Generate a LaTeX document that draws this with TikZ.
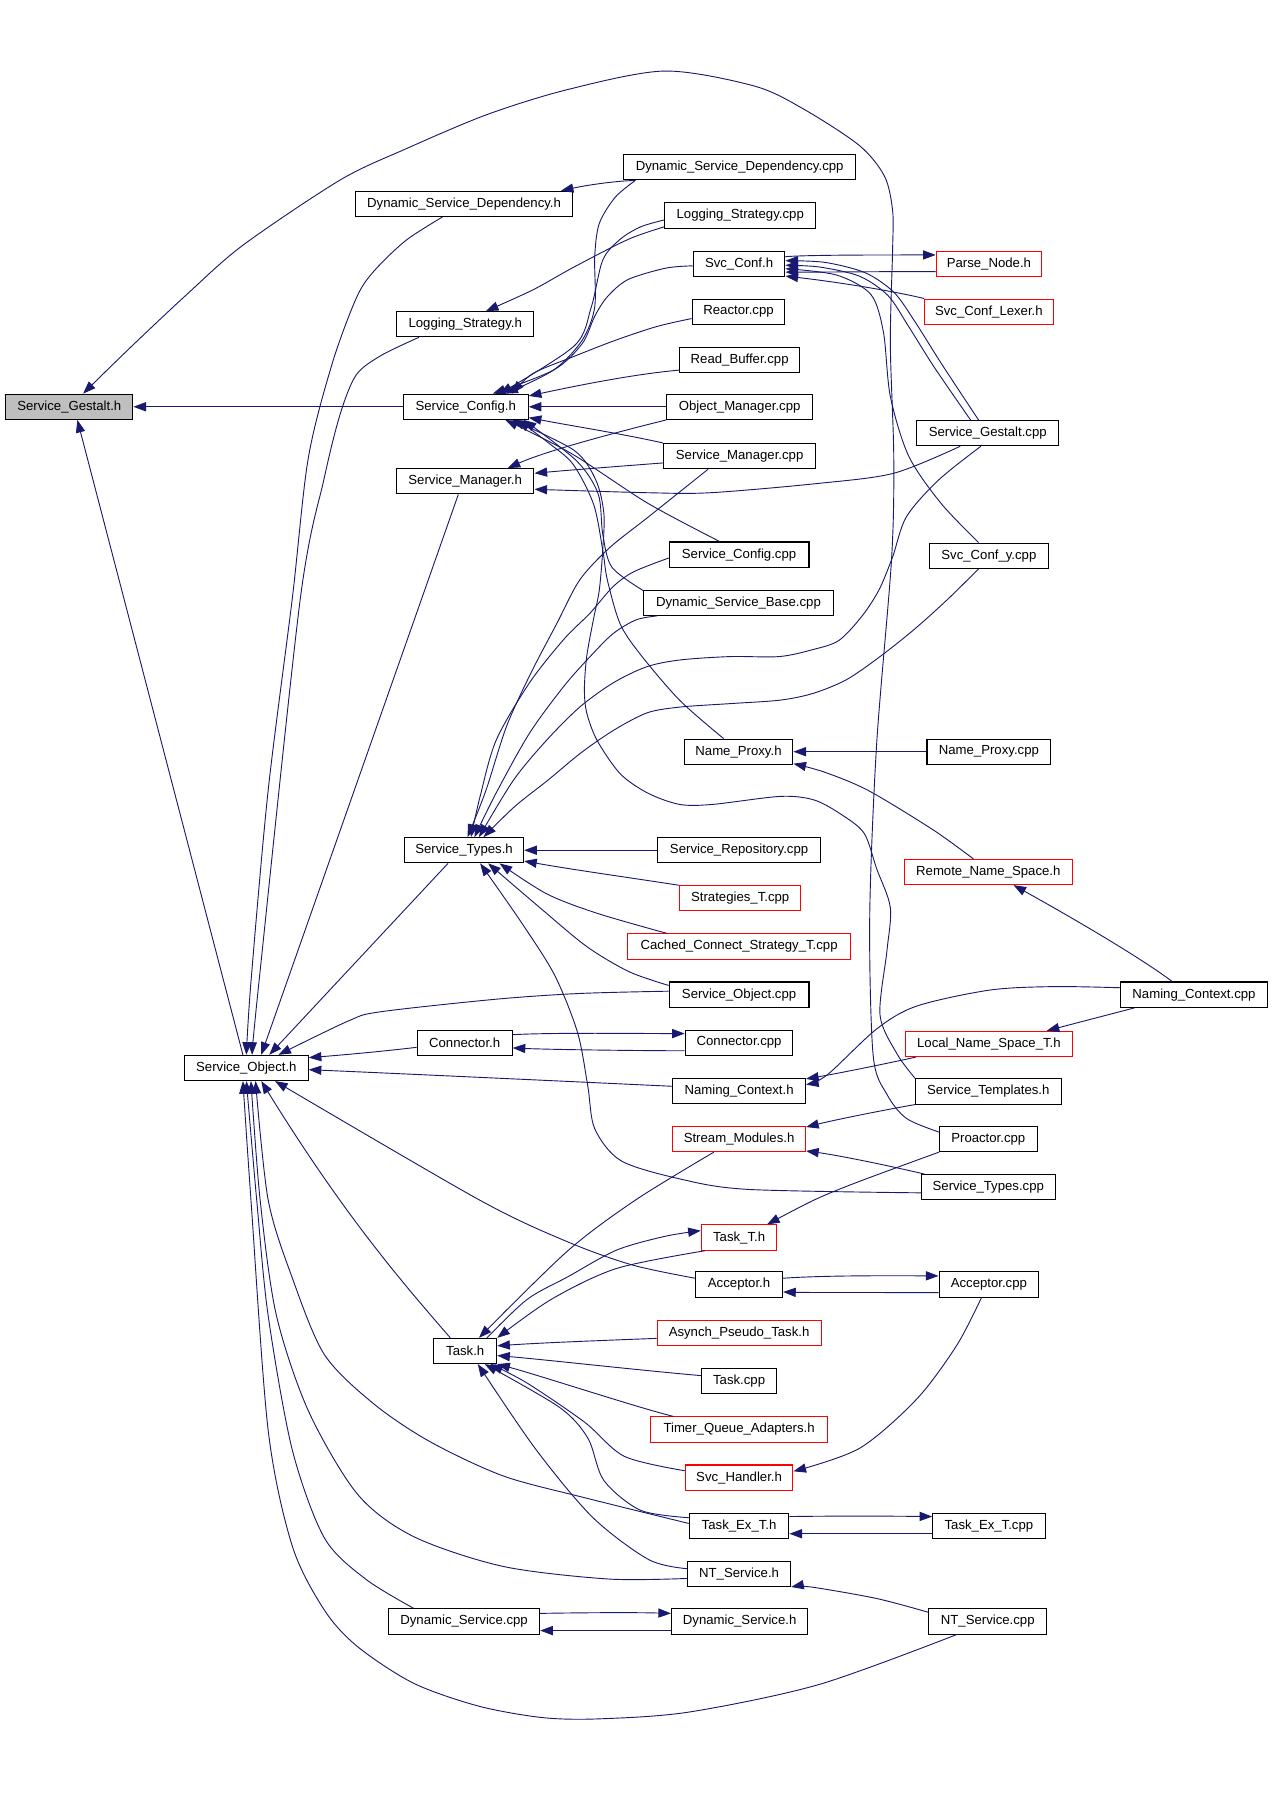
\documentclass[tikz,border=0pt]{standalone}
\usepackage{fontspec}
\setmainfont{Liberation Sans}
\usetikzlibrary{arrows.meta}
\definecolor{edgeblue}{HTML}{191970}
\definecolor{rootgray}{HTML}{BFBFBF}
\begin{document}
\begin{tikzpicture}[x=1pt,y=-1pt,
  filenode/.style={draw=black, line width=0.9pt, minimum height=22pt, inner sep=0pt, font=\fontsize{11.5}{13}\selectfont, text=black},
  rednode/.style={filenode, draw=red},
  rootnode/.style={filenode, fill=rootgray},
  dep/.style={draw=edgeblue, line width=0.8pt, -{Triangle[length=11pt,width=8pt]}}]
\fill[white] (0,0) rectangle (1110,1570);
\useasboundingbox (0,0) rectangle (1110,1570);

% nodes
\node[rootnode, minimum width=111pt] (GSh) at (60.5,355) {Service\_Gestalt.h};
\node[filenode, minimum width=190pt] (DSDh) at (405,178) {Dynamic\_Service\_Dependency.h};
\node[filenode, minimum width=203pt] (DSDc) at (645.5,146) {Dynamic\_Service\_Dependency.cpp};
\node[filenode, minimum width=132pt] (LSc) at (646,188) {Logging\_Strategy.cpp};
\node[filenode, minimum width=80pt] (SCfh) at (645,230.5) {Svc\_Conf.h};
\node[rednode, minimum width=92pt] (PN) at (863,230.5) {Parse\_Node.h};
\node[rednode, minimum width=112pt] (SCL) at (863,272) {Svc\_Conf\_Lexer.h};
\node[filenode, minimum width=81pt] (RC) at (644.5,272) {Reactor.cpp};
\node[filenode, minimum width=120pt] (LSh) at (406,283) {Logging\_Strategy.h};
\node[filenode, minimum width=105pt] (RB) at (645.5,314) {Read\_Buffer.cpp};
\node[filenode, minimum width=109pt] (SCh) at (406.5,355) {Service\_Config.h};
\node[filenode, minimum width=127pt] (OM) at (645.5,355) {Object\_Manager.cpp};
\node[filenode, minimum width=124pt] (GSc) at (862,378) {Service\_Gestalt.cpp};
\node[filenode, minimum width=133pt] (SMc) at (645.5,398) {Service\_Manager.cpp};
\node[filenode, minimum width=120pt] (SMh) at (406,420) {Service\_Manager.h};
\node[filenode, minimum width=122pt] (SCc) at (645,484) {Service\_Config.cpp};
\node[filenode, minimum width=104pt] (SCy) at (863,485) {Svc\_Conf\_y.cpp};
\node[filenode, minimum width=165pt] (DSB) at (644.5,526) {Dynamic\_Service\_Base.cpp};
\node[filenode, minimum width=95pt] (NPh) at (644.5,656) {Name\_Proxy.h};
\node[filenode, minimum width=108pt] (NPc) at (863,656) {Name\_Proxy.cpp};
\node[filenode, minimum width=104pt] (STh) at (405,742) {Service\_Types.h};
\node[filenode, minimum width=142pt] (SR) at (645,742) {Service\_Repository.cpp};
\node[rednode, minimum width=147pt] (RNS) at (862.5,761) {Remote\_Name\_Space.h};
\node[rednode, minimum width=106pt] (ST) at (646,784) {Strategies\_T.cpp};
\node[rednode, minimum width=194pt] (CCS) at (645,826) {Cached\_Connect\_Strategy\_T.cpp};
\node[filenode, minimum width=122pt] (SOc) at (645,868) {Service\_Object.cpp};
\node[filenode, minimum width=128pt] (NCc) at (1042,868) {Naming\_Context.cpp};
\node[filenode, minimum width=83pt] (Ch) at (405.5,910) {Connector.h};
\node[filenode, minimum width=94pt] (Cc) at (645,910) {Connector.cpp};
\node[rednode, minimum width=146pt] (LNS) at (863,911) {Local\_Name\_Space\_T.h};
\node[filenode, minimum width=108pt] (SOh) at (215,932) {Service\_Object.h};
\node[filenode, minimum width=116pt] (NCh) at (645,952) {Naming\_Context.h};
\node[filenode, minimum width=127pt] (STmp) at (862.5,952.5) {Service\_Templates.h};
\node[rednode, minimum width=116pt] (SMod) at (645,994) {Stream\_Modules.h};
\node[filenode, minimum width=85pt] (PR) at (862.5,994) {Proactor.cpp};
\node[filenode, minimum width=117pt] (STc) at (862.5,1036) {Service\_Types.cpp};
\node[rednode, minimum width=66pt] (TT) at (645,1080) {Task\_T.h};
\node[filenode, minimum width=76pt] (Ah) at (645,1121) {Acceptor.h};
\node[filenode, minimum width=87pt] (Ac) at (863,1121) {Acceptor.cpp};
\node[rednode, minimum width=143pt] (APT) at (645,1163.5) {Asynch\_Pseudo\_Task.h};
\node[filenode, minimum width=55pt] (Th) at (406,1179) {Task.h};
\node[filenode, minimum width=66pt] (Tc) at (645,1205.5) {Task.cpp};
\node[rednode, minimum width=154pt] (TQA) at (645,1247.5) {Timer\_Queue\_Adapters.h};
\node[rednode, minimum width=94pt] (SH) at (645,1289.5) {Svc\_Handler.h};
\node[filenode, minimum width=87pt] (TEh) at (645,1331.5) {Task\_Ex\_T.h};
\node[filenode, minimum width=98pt] (TEc) at (863,1331.5) {Task\_Ex\_T.cpp};
\node[filenode, minimum width=90pt] (NTh) at (645,1373.5) {NT\_Service.h};
\node[filenode, minimum width=132pt] (DSc) at (405,1415) {Dynamic\_Service.cpp};
\node[filenode, minimum width=119pt] (DSh) at (645.5,1415) {Dynamic\_Service.h};
\node[filenode, minimum width=103pt] (NTc) at (862,1415) {NT\_Service.cpp};

% edges into Service_Gestalt.h
\draw[dep] (SCh.west) -- (GSh.east);
\draw[dep] ([xshift=-3pt]SOh.north) -- ([xshift=7pt]GSh.south);
\draw[dep] plot[smooth] coordinates {([yshift=6pt]PR.west) (791,976) (774,955) (762,921) (759,800) (765,650) (778,489) (780,400) (777,300) (779,217) (779,184) (772,154) (750,127) (701,95) (658,75) (580,62) (496,78) (425,100) (354,130) (297,157) (212,214) (163,257) (113,304) ([xshift=12pt]GSh.north)};

% top area
\draw[dep] ([xshift=11pt]DSDc.south west) .. controls (535,158) and (510,162) .. ([xshift=-11pt]DSDh.north east);
\draw[dep] plot[smooth] coordinates {([xshift=-19pt]DSDh.south) (354,210) (326,237) (311,260) (290,317) (269,400) (255,523) (234,690) (219,857) (SOh.north)};
\draw[dep] plot[smooth] coordinates {([xshift=11pt]DSDc.south west) (537,172) (523,195) (519,224) (519,268) (508,297) (483,323) ([xshift=34.5pt]SCh.north)};
\draw[dep] plot[smooth] coordinates {([yshift=-10pt]LSc.west) (548,209) (501,233) (465,253) ([xshift=18pt]LSh.north)};
\draw[dep] plot[smooth] coordinates {([yshift=-4pt]LSc.west) (559,198) (541,209) (526,227) (516,268) (501,302) ([xshift=29.5pt]SCh.north)};
\draw[dep] plot[smooth] coordinates {([yshift=-1.5pt]SCfh.west) (581,234) (548,244) (530,259) (519,276) (508,300) (483,323) ([xshift=23.5pt]SCh.north)};
\draw[dep] plot[smooth] coordinates {([yshift=-6pt]RC.west) (573,285) (537,297) (501,311) (465,326) ([xshift=40.5pt]SCh.north)};
\draw[dep] ([yshift=-9pt]RB.west) .. controls (560,326) and (520,333) .. ([yshift=-2pt]SCh.north east);
\draw[dep] (OM.west) -- (SCh.east);
\draw[dep] (OM.south west) .. controls (555,373) and (480,392) .. ([xshift=37pt]SMh.north);
\draw[dep] (SMc.north west) .. controls (540,378) and (495,371) .. ([yshift=2pt]SCh.south east);
\draw[dep] ([yshift=-6pt]SMc.west) .. controls (540,407) and (500,410) .. ([yshift=7pt]SMh.east);
\draw[dep] plot[smooth] coordinates {([xshift=-24pt]GSc.south) (780,413) (713,422) (620,430) (565,430) ([yshift=-7pt]SMh.east)};

% Svc_Conf.h cluster
\draw[dep] ([yshift=6.5pt]SCfh.east) .. controls (705,222.5) and (760,222.5) .. ([yshift=8pt]PN.west);
\draw[dep] ([yshift=-6.5pt]PN.west) .. controls (760,237) and (720,237.5) .. ([yshift=-7pt]SCfh.east);
\draw[dep] (SCL.north west) .. controls (780,254) and (730,246) .. ([yshift=1pt]SCfh.south east);
\draw[dep] plot[smooth] coordinates {([xshift=-15pt]GSc.north) (815,320) (793,285) (775,258) (750,241) (715,233) ([yshift=-1pt]SCfh.east)};
\draw[dep] plot[smooth] coordinates {([xshift=-8pt]GSc.north) (822,318) (798,280) (780,255) (755,238) (720,229) ([yshift=3pt]SCfh.east)};
\draw[dep] plot[smooth] coordinates {([xshift=-9pt]SCy.north) (821,439) (793,398) (777,346) (771,290) (760,257) (730,240) ([yshift=-4pt]SCfh.east)};

% into Service_Config.h from below
\draw[dep] plot[smooth] coordinates {([xshift=-17pt]SCc.north) (565,439) (499,396) ([xshift=34.5pt]SCh.south)};
\draw[dep] plot[smooth] coordinates {([yshift=-1pt]DSB.north west) (534,495) (526,466) (522,431) (503,402) ([xshift=50.5pt]SCh.south)};
\draw[dep] plot[smooth] coordinates {([xshift=-13pt]NPh.north) (593,611) (558,570) (541,544) (530,506) (526,480) (518,440) (500,405) (478,386) ([xshift=45.5pt]SCh.south)};
\draw[dep] plot[smooth] coordinates {(STmp.north west) (783,920) (768,886) (774,830) (777,792) (765,758) (754,727) (733,710) (710,698) (681,695) (622,702) (593,702) (565,692) (541,675) (521,646) (512,622) (510,602) (512,573) (518,540) (523,515) (526,480) (527,448) (520,419) (501,393) ([xshift=40.5pt]SCh.south)};

% into Service_Types.h
\draw[dep] plot[smooth] coordinates {([xshift=-27.5pt]SMc.south) (566,451) (532,478) (506,506) (486,544) (463,588) (442,634) (424,690) ([xshift=3pt]STh.north)};
\draw[dep] plot[smooth] coordinates {([yshift=-3pt]SCc.west) (553,499) (535,512) (515,535) (492,558) (462,596) (433,646) (419,695) ([xshift=6pt]STh.north)};
\draw[dep] plot[smooth] coordinates {([xshift=12pt]DSB.south west) (555,541) (535,553) (515,573) (492,599) (462,640) (433,692) ([xshift=9pt]STh.north)};
\draw[dep] plot[smooth] coordinates {([xshift=-6pt]GSc.south) (819,419) (791,451) (779,486) (767,515) (752,538) (732,559) (709,567) (680,573) (637,573) (593,576) (564,582) (535,596) (506,617) (477,646) (448,681) ([xshift=13pt]STh.north)};
\draw[dep] plot[smooth] coordinates {([xshift=-9pt]SCy.south) (826,524) (797,550) (768,573) (739,593) (710,605) (681,611) (638,614) (594,617) (565,622) (536,637) (507,657) (478,681) (449,704) ([xshift=17pt]STh.north)};
\draw[dep] (SR.west) -- (STh.east);
\draw[dep] (ST.north west) .. controls (550,766) and (500,759) .. ([yshift=2pt]STh.south east);
\draw[dep] plot[smooth] coordinates {([xshift=-63pt]CCS.north) (521,797) (477,780) ([xshift=31pt]STh.south)};
\draw[dep] plot[smooth] coordinates {([yshift=8pt]SOc.west) (549,848) (512,826) (471,792) ([xshift=21pt]STh.south)};
\draw[dep] plot[smooth] coordinates {([yshift=-5pt]STc.west) (653,1038) (594,1029) (542,1013) (519,985) (513,948) (504,901) (484,851) (455,805) ([xshift=14pt]STh.south)};

% Name proxy / naming
\draw[dep] (NPc.west) -- (NPh.east);
\draw[dep] plot[smooth] coordinates {([xshift=-13pt]RNS.north) (814,724) (758,690) (720,674) ([yshift=1pt]NPh.south east)};
\draw[dep] ([xshift=-19pt]NCc.north) .. controls (990,832) and (925,795) .. ([xshift=22pt]RNS.south);
\draw[dep] ([xshift=13pt]NCc.south west) -- ([xshift=-23pt]LNS.north east);
\draw[dep] plot[smooth] coordinates {([yshift=6pt]NCc.west) (920,861) (864,864) (800,878) (765,898) (722,938) ([yshift=-6pt]NCh.north east)};
\draw[dep] ([xshift=10pt]LNS.south west) .. controls (770,929) and (730,937) .. ([yshift=-1pt]NCh.north east);

% into Service_Object.h from above/right
\draw[dep] plot[smooth] coordinates {([xshift=-40.5pt]LSh.south) (333,310) (311,327) (297,361) (283,417) (262,523) (226,857) ([xshift=5pt]SOh.north)};
\draw[dep] ([xshift=-6pt]SMh.south) -- ([xshift=13pt]SOh.north);
\draw[dep] ([xshift=-14pt]STh.south) -- ([xshift=20pt]SOh.north);
\draw[dep] plot[smooth] coordinates {([yshift=3pt]SOc.west) (506,867) (433,872) (332,883) (304,891) ([xshift=28pt]SOh.north)};
\draw[dep] ([yshift=-4pt]Ch.west) .. controls (330,918) and (295,921) .. ([yshift=9pt]SOh.east);
\draw[dep] ([yshift=4pt]NCh.west) .. controls (480,943) and (350,937) .. ([yshift=-1.5pt]SOh.east);

% connector pair
\draw[dep] ([yshift=7pt]Ch.east) .. controls (480,901) and (560,902) .. ([yshift=8pt]Cc.west);
\draw[dep] ([yshift=-7pt]Cc.west) .. controls (560,917) and (480,916) .. ([yshift=-4.5pt]Ch.east);

% stream modules
\draw[dep] ([xshift=3pt]STc.north west) .. controls (770,1016) and (730,1008) .. ([yshift=1pt]SMod.south east);
\draw[dep] (STmp.south west) .. controls (770,969) and (730,977) .. ([yshift=-1pt]SMod.north east);
\draw[dep] plot[smooth] coordinates {([xshift=-22pt]SMod.south) (555,1047) (495,1092) ([xshift=12pt]Th.north)};

% Task area
\draw[dep] plot[smooth] coordinates {(PR.south west) (750,1031) (711,1047) ([xshift=-9pt]TT.north east)};
\draw[dep] plot[smooth] coordinates {([xshift=4pt]TT.south west) (538,1107) (481,1134) (Th.north east)};
\draw[dep] plot[smooth] coordinates {([xshift=19pt]Th.north) (460,1134) (496,1114) (538,1091) (580,1079) ([yshift=6pt]TT.west)};
\draw[dep] plot[smooth] coordinates {([yshift=5.5pt]Ah.west) (552,1104) (496,1084) (418,1047) ([xshift=25pt]SOh.south)};
\draw[dep] ([yshift=5.5pt]Ah.east) .. controls (705,1114) and (740,1113) .. ([yshift=7.5pt]Ac.west);
\draw[dep] ([yshift=-7pt]Ac.west) .. controls (760,1128) and (700,1128) .. ([yshift=-6.5pt]Ah.east);
\draw[dep] plot[smooth] coordinates {([xshift=-6.5pt]Ac.south) (835,1174) (800,1221) (750,1264) ([yshift=5.5pt]SH.east)};
\draw[dep] ([yshift=-4.5pt]APT.west) .. controls (520,1170) and (470,1172) .. ([yshift=4.5pt]Th.east);
\draw[dep] ([yshift=5pt]Tc.west) .. controls (550,1195) and (480,1187) .. ([yshift=-4pt]Th.east);
\draw[dep] ([xshift=-57.5pt]TQA.north) .. controls (555,1228) and (470,1200) .. (Th.south east);
\draw[dep] plot[smooth] coordinates {([yshift=6pt]SH.west) (545,1271) (510,1241) (460,1207) ([xshift=22pt]Th.south)};
\draw[dep] plot[smooth] coordinates {([yshift=7pt]TEh.west) (559,1318) (527,1292) (513,1255) (488,1228) ([xshift=17pt]Th.south)};
\draw[dep] ([xshift=-13pt]Th.north) .. controls (350,1118) and (300,1060) .. ([xshift=13pt]SOh.south);
\draw[dep] plot[smooth] coordinates {([yshift=2pt]TEh.west) (510,1307) (439,1288) (375,1258) (326,1225) (283,1182) (255,1115) (234,1047) ([xshift=8pt]SOh.south)};
\draw[dep] ([yshift=8pt]TEh.east) .. controls (720,1323) and (770,1323) .. ([yshift=8pt]TEc.west);
\draw[dep] ([yshift=-7pt]TEc.west) .. controls (770,1338.5) and (720,1338.5) .. ([yshift=-7pt]TEh.east);
\draw[dep] plot[smooth] coordinates {([yshift=4.5pt]NTh.west) (566,1361) (517,1324) (467,1264) ([xshift=11pt]Th.south)};
\draw[dep] plot[smooth] coordinates {([yshift=-4pt]NTh.west) (531,1378) (439,1367) (361,1341) (312,1304) (269,1231) (241,1147) (227,1047) ([xshift=4pt]SOh.south)};
\draw[dep] plot[smooth] coordinates {([yshift=8pt]NTc.west) (765,1395) (708,1385) (NTh.south east)};
\draw[dep] plot[smooth] coordinates {([xshift=-27pt]NTc.south) (715,1470) (602,1494) (524,1500) (474,1499) (418,1489) (361,1469) (312,1437) (283,1405) (255,1349) (234,1248) (219,1047) ([xshift=-3pt]SOh.south)};
\draw[dep] plot[smooth] coordinates {([xshift=-44pt]DSc.north) (319,1378) (283,1342) (255,1265) (234,1148) (224,1047) (SOh.south)};
\draw[dep] ([yshift=7pt]DSc.east) .. controls (500,1407.5) and (550,1407) .. ([yshift=7pt]DSh.west);
\draw[dep] ([yshift=-8pt]DSh.west) .. controls (550,1423) and (500,1423) .. ([yshift=-8pt]DSc.east);
\end{tikzpicture}
\end{document}
